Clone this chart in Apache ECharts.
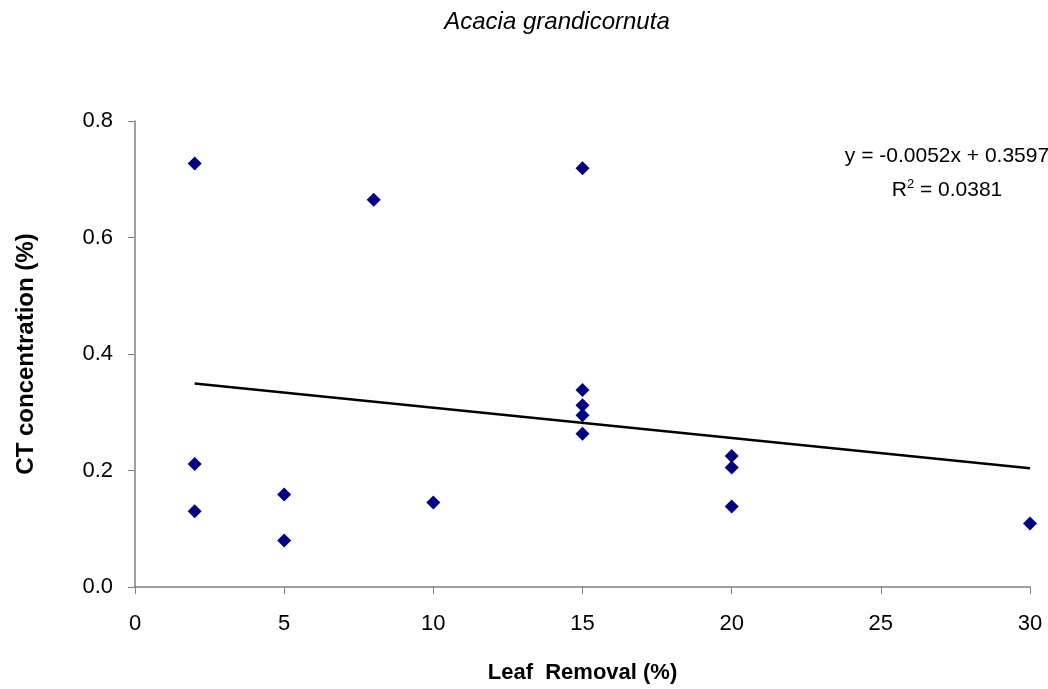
<!DOCTYPE html>
<html>
<head>
<meta charset="utf-8">
<script src="https://cdn.jsdelivr.net/npm/echarts@6/dist/echarts.min.js"></script>
<style>
html,body{margin:0;padding:0;background:#fff;}
#chart{width:1048px;height:689px;}
</style>
</head>
<body>
<div id="chart"></div>
<script>
const leafRemoval = [2, 2, 2, 5, 5, 8, 10, 15, 15, 15, 15, 15, 20, 20, 20, 30];
const ctConcentration = [0.727, 0.211, 0.130, 0.159, 0.080, 0.665, 0.145, 0.719, 0.338, 0.312, 0.295, 0.263, 0.225, 0.205, 0.138, 0.109];
const trendX = [2, 30];
const trendY = [0.3493, 0.2037];
const xTicks = [0, 5, 10, 15, 20, 25, 30];
const yTicks = [0.0, 0.2, 0.4, 0.6, 0.8];

const points = leafRemoval.map((x, i) => [x, ctConcentration[i]]);
const trend = trendX.map((x, i) => [x, trendY[i]]);

const chart = echarts.init(document.getElementById('chart'));
const font = 'Liberation Sans, Arial, sans-serif';
chart.setOption({
  animation: false,
  backgroundColor: '#fff',
  title: [
    {
      text: 'Acacia grandicornuta',
      left: 552, top: 5, textAlign: 'center',
      textStyle: {fontFamily: font, fontStyle: 'italic', fontWeight: 'normal', fontSize: 24, color: '#000'}
    },
    {
      text: '{a|y = -0.0052x + 0.3597}\n{a|R}{sup|2}{a| = 0.0381}',
      left: 942, top: 134, textAlign: 'center',
      textStyle: {
        fontFamily: font, fontWeight: 'normal', color: '#000', fontSize: 21,
        rich: {
          a: {fontFamily: font, fontSize: 21, color: '#000', lineHeight: 34},
          sup: {fontFamily: font, fontSize: 13, color: '#000', lineHeight: 16, padding: [0, 0, 12, 0]}
        }
      }
    }
  ],
  grid: {left: 135, right: 18, top: 121, bottom: 99, containLabel: false},
  xAxis: {
    type: 'value', min: 0, max: 30, interval: 5,
    name: 'Leaf  Removal (%)', nameLocation: 'middle', nameGap: 75,
    nameTextStyle: {fontFamily: font, fontWeight: 'bold', fontSize: 22, color: '#000'},
    axisLine: {show: true, onZero: false, lineStyle: {color: '#808080', width: 1.5}},
    axisTick: {show: true, inside: false, length: 7, lineStyle: {color: '#808080'}},
    axisLabel: {fontFamily: font, fontSize: 22, color: '#000', margin: 26,
      formatter: v => xTicks.includes(v) ? String(v) : ''},
    splitLine: {show: false}
  },
  yAxis: {
    type: 'value', min: 0, max: 0.8, interval: 0.2,
    name: 'CT concentration (%)', nameLocation: 'middle', nameGap: 97,
    nameTextStyle: {fontFamily: font, fontWeight: 'bold', fontSize: 24, color: '#000'},
    axisLine: {show: true, lineStyle: {color: '#808080', width: 1.5}},
    axisTick: {show: true, inside: false, length: 7, lineStyle: {color: '#808080'}},
    axisLabel: {fontFamily: font, fontSize: 22, color: '#000', margin: 22,
      formatter: v => yTicks.some(t => Math.abs(t - v) < 1e-9) ? v.toFixed(1) : ''},
    splitLine: {show: false}
  },
  series: [
    {
      type: 'line', data: trend, symbol: 'none',
      lineStyle: {color: '#000', width: 2.5}, z: 2, silent: true
    },
    {
      type: 'scatter', data: points, symbol: 'diamond', symbolSize: [14, 14],
      itemStyle: {color: '#000080', opacity: 1}, z: 3
    }
  ]
});
</script>
</body>
</html>
